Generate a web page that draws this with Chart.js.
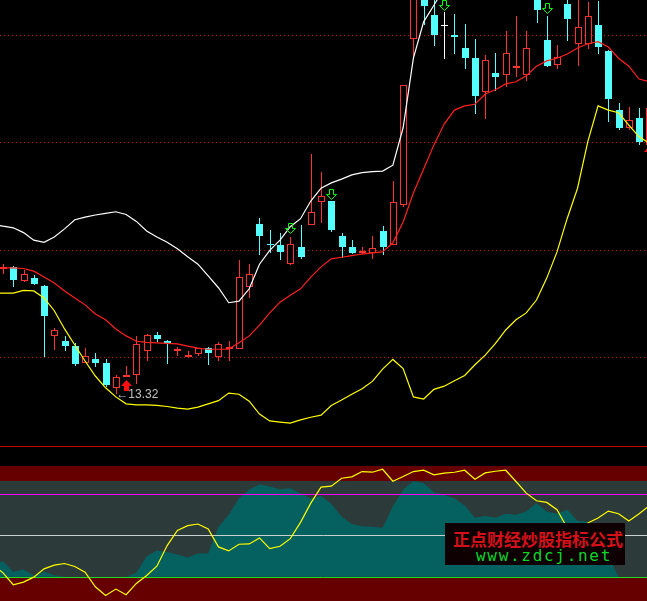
<!DOCTYPE html>
<html lang="zh">
<head>
    <meta charset="utf-8">
    <title>K线 指标</title>
    <style>
        * { margin: 0; padding: 0; box-sizing: content-box; }
        body { width: 647px; height: 601px; background: #000; overflow: hidden; position: relative; }
        canvas { position: absolute; left: 0; display: block; }
        #priceChart { top: 0; }
        #rule { position: absolute; left: 0; top: 446px; width: 647px; height: 1px; background: #c00000; }
        #oscChart { top: 447px; }
        #mark {
            position: absolute; left: 445px; top: 523px; width: 180px; height: 42px;
            background: #0e0002; text-align: center;
        }
        #mark .cn {
            position: absolute; left: 8px; top: 5px; white-space: nowrap;
            font: 700 17px/21px "Noto Sans CJK SC", sans-serif; color: #d4101a;
        }
        #mark .en {
            position: absolute; left: 31px; top: 24px; white-space: nowrap; letter-spacing: 1.7px;
            font: 400 16px/17px "DejaVu Sans Mono", monospace; color: #0cd62a;
        }
    </style>
</head>
<body>
    <canvas id="priceChart" width="647" height="446"></canvas>
    <div id="rule"></div>
    <canvas id="oscChart" width="647" height="154"></canvas>
    <div id="mark">
        <div class="cn">正点财经炒股指标公式</div>
        <div class="en">www.zdcj.net</div>
    </div>

    <script src="https://cdn.jsdelivr.net/npm/chart.js@4"></script>
    <script>
        // candles, one entry per trading day
        const opens = [15.65,15.69,15.43,15.49,15.33,14.39,14.30,14.21,13.90,13.97,13.89,13.43,13.63,13.66,14.11,14.41,14.30,14.12,14.01,14.07,14.17,14.01,14.15,14.15,15.31,16.50,16.12,16.10,15.75,16.06,16.48,16.91,16.92,16.27,16.06,15.94,15.94,16.36,16.10,16.85,19.95,20.87,20.40,20.19,20.02,19.78,19.59,18.95,19.31,19.28,19.41,19.28,21.00,19.93,19.47,20.60,19.86,19.86,20.21,19.73,18.62,18.29,18.47,17.97];
        const closes = [15.69,15.44,15.56,15.37,14.77,14.51,14.21,13.87,14.02,13.89,13.48,13.63,13.66,14.24,14.41,14.34,14.27,14.16,14.04,14.17,14.08,14.24,14.19,15.51,15.55,16.27,16.10,15.97,16.11,15.88,16.71,17.01,16.37,16.06,15.94,15.98,16.04,16.06,16.90,19.08,21.15,20.57,20.02,20.19,19.99,19.59,18.88,19.55,19.24,19.68,19.44,19.78,20.49,19.44,19.61,20.32,20.17,20.38,19.80,18.83,18.29,18.43,18.02,18.66];
        const highs = [15.74,15.71,15.63,15.54,15.35,14.54,14.39,14.26,14.17,14.08,13.96,13.66,13.84,14.40,14.44,14.47,14.32,14.20,14.12,14.17,14.19,14.29,14.30,15.82,15.74,16.60,16.38,16.32,16.24,16.47,17.80,17.46,16.92,16.32,16.19,16.06,16.27,16.45,17.30,19.08,21.30,21.00,20.80,20.45,20.42,20.23,19.95,19.65,19.68,20.10,20.38,20.10,21.20,20.38,19.84,20.80,20.80,20.64,20.66,19.74,18.75,18.68,18.66,18.66];
        const lows = [15.56,15.32,15.41,15.35,14.01,14.14,14.12,13.84,13.90,13.81,13.45,13.32,13.63,13.50,13.94,14.29,13.87,14.02,13.99,14.02,13.86,13.94,13.94,14.15,15.11,15.91,15.94,15.81,15.73,15.84,16.48,16.51,16.35,15.85,15.93,15.93,15.84,15.91,16.10,16.81,19.57,20.21,19.81,19.58,19.67,19.39,18.55,18.46,18.98,19.06,19.24,19.16,20.25,19.43,19.39,19.91,19.44,19.76,19.67,18.40,18.25,18.25,17.97,17.97];

        // band lines, these start one day before the first candle
        const upperBand = [16.49,16.45,16.42,16.33,16.19,16.15,16.25,16.40,16.57,16.62,16.66,16.69,16.72,16.67,16.54,16.36,16.25,16.15,16.03,15.88,15.74,15.52,15.30,15.02,15.05,15.28,15.74,16.00,16.19,16.44,16.59,16.92,17.16,17.26,17.33,17.41,17.45,17.47,17.48,17.59,18.29,19.59,20.27,20.58,20.90];
        const middleBand = [15.67,15.67,15.67,15.66,15.61,15.50,15.39,15.24,15.11,14.98,14.81,14.70,14.53,14.40,14.30,14.28,14.27,14.26,14.25,14.21,14.17,14.15,14.15,14.15,14.27,14.40,14.60,14.83,15.03,15.16,15.28,15.50,15.69,15.84,15.87,15.90,15.93,15.95,15.97,16.14,16.53,17.07,17.52,17.97,18.36,18.62,18.70,18.73,18.92,19.00,19.11,19.15,19.26,19.44,19.54,19.59,19.67,19.78,19.86,19.90,19.80,19.59,19.44,19.20,19.15];
        const lowerBand = [15.20,15.20,15.20,15.25,15.24,15.11,14.87,14.53,14.23,13.93,13.65,13.43,13.26,13.13,13.11,13.11,13.10,13.08,13.05,13.03,13.07,13.13,13.19,13.33,13.31,13.18,12.94,12.81,12.79,12.77,12.83,12.88,12.92,13.10,13.20,13.31,13.41,13.55,13.78,13.96,13.79,13.26,13.22,13.40,13.46,13.56,13.66,13.86,14.04,14.26,14.51,14.70,14.83,15.07,15.48,15.97,16.60,17.16,18.03,18.70,18.62,18.57,18.34,18.12,18.00];

        // signals
        const buyDays = [12, 63];
        const buyPrices = [13.49, 17.86];
        const sellDays = [28, 32, 43, 53];
        const sellPrices = [16.41, 17.06, 20.59, 20.52];
        const lowDay = 11;
        const lowPrice = 13.32;

        const priceLevels = [14, 16, 18.02, 20.02];
        const priceMin = 12.342;
        const priceMax = 20.678;

        // lower panel, also starting one day before the first candle
        const oscLine = [14.3,4.76,-9.6,-6.4,-0.4,9.6,14,16,12.4,5.6,-12,-22.4,-14.8,-21.6,-8,1.6,12.8,37.6,55.96,61.6,63.6,57.6,36,31.2,39.2,39.6,46.8,34,36.8,46,65.6,88.8,108,109.2,118.76,120.4,126.8,126,129.6,115.2,120.8,126.8,128.4,122.8,124.8,126,128.4,117.6,125.2,127.2,128.4,114.8,100.8,91.6,89.6,80.8,58.8,57.6,64.8,70.8,79.2,76,67.2,76,85.6];
        const oscArea = [14.76,18.76,5.96,8.76,1.56,6.36,1.96,0,0,0,0,0,0,0,4.76,24.76,31.56,29.96,26.76,23.16,27.96,28.36,59.96,74.76,94.76,104.76,111.16,108.76,105.56,106.76,100.76,94.36,97.56,87.96,72.76,63.56,60.76,60.36,59.16,84.76,104.76,115.56,112.76,101.96,98.76,94.76,85.96,71.16,73.16,71.16,75.96,74.76,78.76,88.76,78.76,75.96,80.76,67.56,66.36,44.76,24.76,0,0,0,0];
        const oscLevels = [0, 50, 100];
        const oscLevelColors = ["#20dc20", "#c8d0d0", "#ff00ff"];
        const oscBands = [[115.4, 133.5, "#660000"], [0, 115.4, "#2d3a3a"], [-29.16, 0, "#660000"]];
        const oscMin = -29.16;
        const oscMax = 156.39;

        const firstDay = -0.292;
        const lastDay = 62.77;

        const RED = "#ff3232";
        const CYAN = "#54ffff";

        const days = opens.map((_, i) => i);
        const upDays = days.filter(i => closes[i] > opens[i]);
        const downDays = days.filter(i => closes[i] < opens[i]);
        const flatDays = days.filter(i => closes[i] === opens[i]);

        const wicks = list => list.map(i => ({ x: i, y: [lows[i], highs[i]] }));
        const bodies = list => list.map(i => ({ x: i, y: [opens[i], closes[i]] }));
        const shifted = values => values.map((v, i) => ({ x: i - 1, y: v }));

        // arrow markers as small canvases so they can be used as pointStyle
        function arrowCanvas(color, hollow) {
            const c = document.createElement("canvas");
            c.width = 13;
            c.height = 13;
            const g = c.getContext("2d");
            g.beginPath();
            if (hollow) {
                g.moveTo(4.5, 1.5); g.lineTo(8.5, 1.5); g.lineTo(8.5, 6.5); g.lineTo(11.5, 6.5);
                g.lineTo(6.5, 11.5); g.lineTo(1.5, 6.5); g.lineTo(4.5, 6.5);
                g.closePath();
                g.strokeStyle = color;
                g.lineWidth = 1;
                g.stroke();
            } else {
                g.moveTo(6.5, 1); g.lineTo(12, 7); g.lineTo(9, 7); g.lineTo(9, 12);
                g.lineTo(4, 12); g.lineTo(4, 7); g.lineTo(1, 7);
                g.closePath();
                g.fillStyle = color;
                g.fill();
            }
            return c;
        }

        // snap bars, arrows and level lines to whole pixels so they stay sharp
        const crispMarks = {
            id: "crispMarks",
            beforeDatasetDraw(chart, args) {
                const type = args.meta.type;
                if (type === "bar") {
                    args.meta.data.forEach(el => {
                        el.x = Math.round(el.x) + 0.5;
                        el.y = Math.round(el.y);
                        el.base = Math.round(el.base);
                        if (el.y === el.base) el.base = el.y + 1;
                    });
                } else if (type === "scatter" || args.meta.label === "level") {
                    args.meta.data.forEach(el => {
                        if (type === "scatter") el.x = Math.round(el.x) + 0.5;
                        el.y = Math.round(el.y) + 0.5;
                    });
                }
            }
        };

        const lowLabel = {
            id: "lowLabel",
            afterDatasetsDraw(chart) {
                const g = chart.ctx;
                g.save();
                g.font = "12px 'Liberation Sans'";
                g.fillStyle = "#c0c0c0";
                g.textBaseline = "middle";
                g.fillText("\u2190" + lowPrice.toFixed(2), chart.scales.x.getPixelForValue(lowDay) + 0.5, chart.scales.y.getPixelForValue(lowPrice) + 1);
                g.restore();
            }
        };

        const bandBackground = {
            id: "bandBackground",
            beforeDatasetsDraw(chart) {
                const g = chart.ctx;
                const y = chart.scales.y;
                oscBands.forEach(([from, to, color]) => {
                    const top = Math.round(y.getPixelForValue(to));
                    const bottom = Math.round(y.getPixelForValue(from));
                    g.fillStyle = color;
                    g.fillRect(0, top, chart.width, bottom - top);
                });
            }
        };

        const lineDataset = (label, values, color, order) => ({
            type: "line", label, data: shifted(values), borderColor: color, borderWidth: 1.2,
            pointRadius: 0, tension: 0, fill: false, order
        });
        const wickDataset = (list, color) => ({
            label: "wick", data: wicks(list), backgroundColor: color, borderWidth: 0,
            barThickness: 1, grouped: false, inflateAmount: 0, order: 5
        });

        new Chart(document.getElementById("priceChart"), {
            type: "bar",
            plugins: [crispMarks, lowLabel],
            data: {
                datasets: [
                    wickDataset(upDays, RED),
                    wickDataset(downDays, CYAN),
                    wickDataset(flatDays, "#ffffff"),
                    {
                        label: "up", data: bodies(upDays), backgroundColor: "#000000", borderColor: RED,
                        borderWidth: 1, borderSkipped: false, barThickness: 7, grouped: false, inflateAmount: 0, order: 4
                    },
                    {
                        label: "down", data: bodies(downDays), backgroundColor: CYAN, borderWidth: 0,
                        barThickness: 7, grouped: false, inflateAmount: 0, order: 4
                    },
                    {
                        label: "flat", data: bodies(flatDays), backgroundColor: "#ffffff", borderWidth: 0,
                        barThickness: 7, grouped: false, inflateAmount: 0, minBarLength: 1, order: 4
                    },
                    lineDataset("upper", upperBand, "#ffffff", 2),
                    lineDataset("middle", middleBand, "#ff2020", 2),
                    lineDataset("lower", lowerBand, "#ffff00", 2),
                    {
                        type: "scatter", label: "buy", data: buyDays.map((d, i) => ({ x: d, y: buyPrices[i] })),
                        pointStyle: arrowCanvas("#ff1010", false), order: 1
                    },
                    {
                        type: "scatter", label: "sell", data: sellDays.map((d, i) => ({ x: d, y: sellPrices[i] })),
                        pointStyle: arrowCanvas("#00ff00", true), order: 1
                    }
                ]
            },
            options: {
                responsive: false,
                animation: false,
                devicePixelRatio: 1,
                layout: { padding: 0, autoPadding: false },
                plugins: { legend: { display: false }, tooltip: { enabled: false } },
                scales: {
                    x: { type: "linear", min: firstDay, max: lastDay, offset: false, display: false },
                    y: {
                        min: priceMin,
                        max: priceMax,
                        afterBuildTicks: s => { s.ticks = priceLevels.map(value => ({ value })); },
                        afterFit: s => { s.width = 0; },
                        ticks: { display: false },
                        grid: { color: "#d00000", lineWidth: 1, drawTicks: false },
                        border: { display: false, dash: [1, 3] }
                    }
                }
            }
        });

        new Chart(document.getElementById("oscChart"), {
            type: "line",
            plugins: [crispMarks, bandBackground],
            data: {
                datasets: [
                    {
                        label: "area", data: shifted(oscArea), borderWidth: 0, backgroundColor: "#056060",
                        pointRadius: 0, tension: 0, fill: { value: 0 }, order: 3
                    },
                    ...oscLevels.map((level, i) => ({
                        label: "level", data: [{ x: firstDay, y: level }, { x: lastDay, y: level }],
                        borderColor: oscLevelColors[i], borderWidth: 1, pointRadius: 0, order: 2
                    })),
                    {
                        label: "osc", data: shifted(oscLine), borderColor: "#ffff00", borderWidth: 1.2,
                        pointRadius: 0, tension: 0, order: 1
                    }
                ]
            },
            options: {
                responsive: false,
                animation: false,
                devicePixelRatio: 1,
                layout: { padding: 0, autoPadding: false },
                plugins: { legend: { display: false }, tooltip: { enabled: false } },
                scales: {
                    x: { type: "linear", min: firstDay, max: lastDay, display: false },
                    y: { min: oscMin, max: oscMax, display: false }
                }
            }
        });
    </script>
</body>
</html>
